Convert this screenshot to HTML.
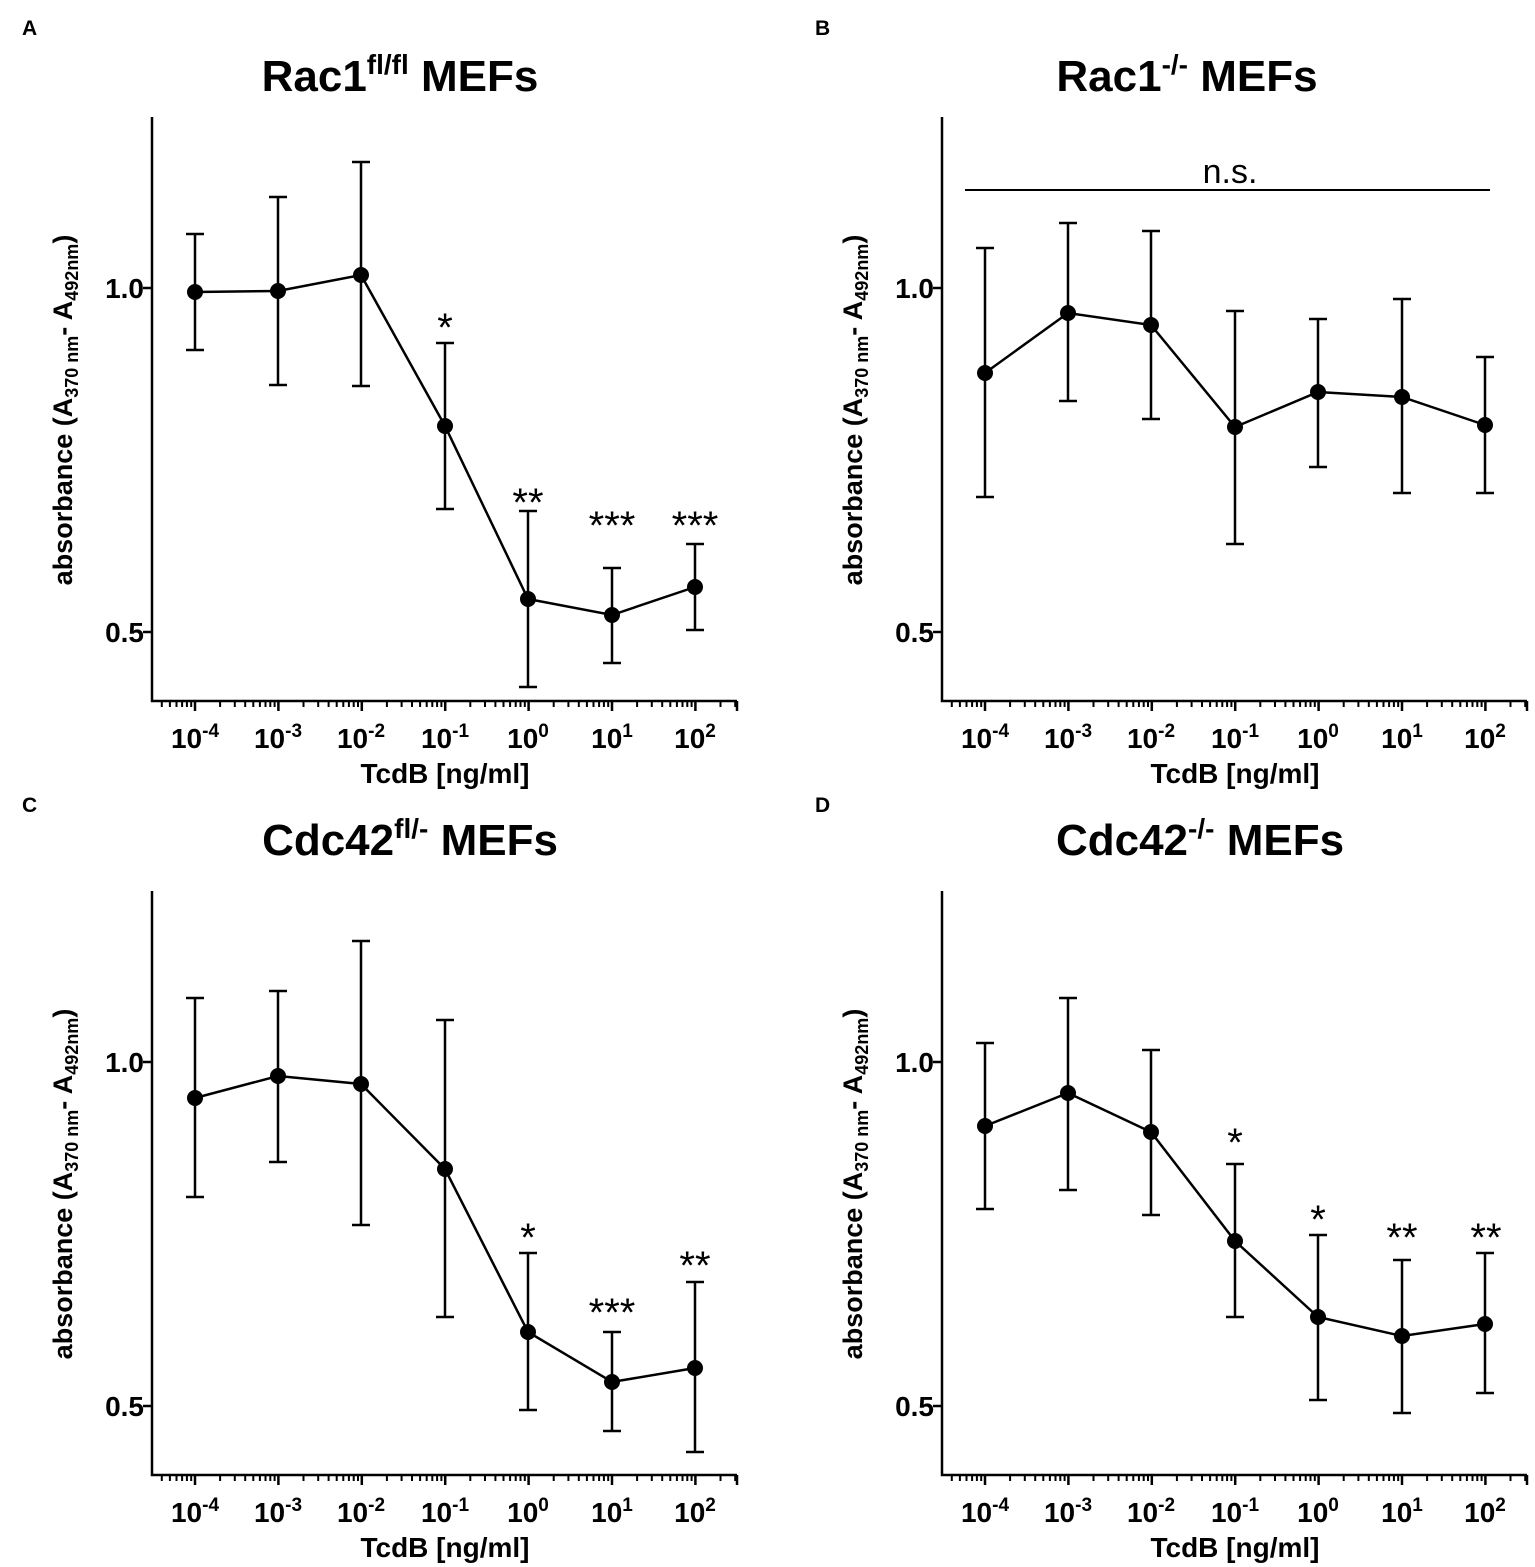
<!DOCTYPE html>
<html><head><meta charset="utf-8"><style>
body{margin:0;background:#fff}
svg{display:block;font-family:"Liberation Sans",Arial,sans-serif}
.t{font-weight:bold;font-size:44px;text-anchor:middle}
.l{font-weight:bold;font-size:21px}
.yl{font-weight:bold;font-size:27px;text-anchor:middle}
.tk{font-size:28px;font-weight:bold;text-anchor:end}
.xt{font-size:28px;font-weight:bold;text-anchor:middle}
.st{font-size:40px;text-anchor:middle}
</style></head><body>
<svg id="s" width="1535" height="1567" viewBox="0 0 1535 1567">
<text class="l" x="22" y="35">A</text>
<text class="l" x="815" y="35">B</text>
<text class="l" x="22" y="812">C</text>
<text class="l" x="815" y="812">D</text>
<text class="t" x="400" y="91">Rac1<tspan font-size="28" dy="-17">fl/fl</tspan><tspan dy="17"> MEFs</tspan></text>
<text class="t" x="1187" y="91">Rac1<tspan font-size="28" dy="-17">-/-</tspan><tspan dy="17"> MEFs</tspan></text>
<text class="t" x="410" y="855">Cdc42<tspan font-size="28" dy="-17">fl/-</tspan><tspan dy="17"> MEFs</tspan></text>
<text class="t" x="1200" y="855">Cdc42<tspan font-size="28" dy="-17">-/-</tspan><tspan dy="17"> MEFs</tspan></text>
<g id="labels">
<g transform="translate(0,0)">
<text class="yl" transform="translate(72,410) rotate(-90)">absorbance (A<tspan font-size="18" dy="6">370 nm</tspan><tspan dy="-6">- A</tspan><tspan font-size="18" dy="6">492nm</tspan><tspan dy="-6">)</tspan></text>
<text class="tk" x="144" y="298">1.0</text><text class="tk" x="144" y="642">0.5</text>
<text class="xt" x="445" y="783">TcdB [ng/ml]</text>
<text class="xt" x="195" y="748">10<tspan font-size="19" dy="-11">-4</tspan></text>
<text class="xt" x="278" y="748">10<tspan font-size="19" dy="-11">-3</tspan></text>
<text class="xt" x="361" y="748">10<tspan font-size="19" dy="-11">-2</tspan></text>
<text class="xt" x="445" y="748">10<tspan font-size="19" dy="-11">-1</tspan></text>
<text class="xt" x="528" y="748">10<tspan font-size="19" dy="-11">0</tspan></text>
<text class="xt" x="612" y="748">10<tspan font-size="19" dy="-11">1</tspan></text>
<text class="xt" x="695" y="748">10<tspan font-size="19" dy="-11">2</tspan></text>
</g>
<g transform="translate(790,0)">
<text class="yl" transform="translate(72,410) rotate(-90)">absorbance (A<tspan font-size="18" dy="6">370 nm</tspan><tspan dy="-6">- A</tspan><tspan font-size="18" dy="6">492nm</tspan><tspan dy="-6">)</tspan></text>
<text class="tk" x="144" y="298">1.0</text><text class="tk" x="144" y="642">0.5</text>
<text class="xt" x="445" y="783">TcdB [ng/ml]</text>
<text class="xt" x="195" y="748">10<tspan font-size="19" dy="-11">-4</tspan></text>
<text class="xt" x="278" y="748">10<tspan font-size="19" dy="-11">-3</tspan></text>
<text class="xt" x="361" y="748">10<tspan font-size="19" dy="-11">-2</tspan></text>
<text class="xt" x="445" y="748">10<tspan font-size="19" dy="-11">-1</tspan></text>
<text class="xt" x="528" y="748">10<tspan font-size="19" dy="-11">0</tspan></text>
<text class="xt" x="612" y="748">10<tspan font-size="19" dy="-11">1</tspan></text>
<text class="xt" x="695" y="748">10<tspan font-size="19" dy="-11">2</tspan></text>
</g>
<g transform="translate(0,774)">
<text class="yl" transform="translate(72,410) rotate(-90)">absorbance (A<tspan font-size="18" dy="6">370 nm</tspan><tspan dy="-6">- A</tspan><tspan font-size="18" dy="6">492nm</tspan><tspan dy="-6">)</tspan></text>
<text class="tk" x="144" y="298">1.0</text><text class="tk" x="144" y="642">0.5</text>
<text class="xt" x="445" y="783">TcdB [ng/ml]</text>
<text class="xt" x="195" y="748">10<tspan font-size="19" dy="-11">-4</tspan></text>
<text class="xt" x="278" y="748">10<tspan font-size="19" dy="-11">-3</tspan></text>
<text class="xt" x="361" y="748">10<tspan font-size="19" dy="-11">-2</tspan></text>
<text class="xt" x="445" y="748">10<tspan font-size="19" dy="-11">-1</tspan></text>
<text class="xt" x="528" y="748">10<tspan font-size="19" dy="-11">0</tspan></text>
<text class="xt" x="612" y="748">10<tspan font-size="19" dy="-11">1</tspan></text>
<text class="xt" x="695" y="748">10<tspan font-size="19" dy="-11">2</tspan></text>
</g>
<g transform="translate(790,774)">
<text class="yl" transform="translate(72,410) rotate(-90)">absorbance (A<tspan font-size="18" dy="6">370 nm</tspan><tspan dy="-6">- A</tspan><tspan font-size="18" dy="6">492nm</tspan><tspan dy="-6">)</tspan></text>
<text class="tk" x="144" y="298">1.0</text><text class="tk" x="144" y="642">0.5</text>
<text class="xt" x="445" y="783">TcdB [ng/ml]</text>
<text class="xt" x="195" y="748">10<tspan font-size="19" dy="-11">-4</tspan></text>
<text class="xt" x="278" y="748">10<tspan font-size="19" dy="-11">-3</tspan></text>
<text class="xt" x="361" y="748">10<tspan font-size="19" dy="-11">-2</tspan></text>
<text class="xt" x="445" y="748">10<tspan font-size="19" dy="-11">-1</tspan></text>
<text class="xt" x="528" y="748">10<tspan font-size="19" dy="-11">0</tspan></text>
<text class="xt" x="612" y="748">10<tspan font-size="19" dy="-11">1</tspan></text>
<text class="xt" x="695" y="748">10<tspan font-size="19" dy="-11">2</tspan></text>
</g>
</g>
<text class="st" x="445" y="341">*</text>
<text class="st" x="528" y="516">**</text>
<text class="st" x="612" y="539">***</text>
<text class="st" x="695" y="539">***</text>
<line x1="965" y1="190" x2="1490" y2="190" stroke="#000" stroke-width="2"/>
<text x="1230" y="183" font-size="34" text-anchor="middle">n.s.</text>
<text class="st" x="528" y="1251">*</text>
<text class="st" x="612" y="1326">***</text>
<text class="st" x="695" y="1279">**</text>
<text class="st" x="1235" y="1156">*</text>
<text class="st" x="1318" y="1233">*</text>
<text class="st" x="1402" y="1251">**</text>
<text class="st" x="1486" y="1251">**</text>
<g id="g"></g>
</svg>
<script>
var g=document.getElementById('g'),h='';
var off=[[0,0],[790,0],[0,774],[790,774]];
var X=[195,278,361,445,528,612,695];
var D=[
[[292,234,350],[291,197,385],[275,162,386],[426,343,509],[599,511,687],[615,568,663],[587,544,630]],
[[373,248,497],[313,223,401],[325,231,419],[427,311,544],[392,319,467],[397,299,493],[425,357,493]],
[[324,224,423],[302,217,388],[310,167,451],[395,246,543],[558,479,636],[608,558,657],[594,508,678]],
[[352,269,435],[319,224,416],[358,276,441],[467,390,543],[543,461,626],[562,486,639],[550,479,619]]];
for(var p=0;p<4;p++){var dx=off[p][0],dy=off[p][1];
h+='<g transform="translate('+dx+','+dy+')" stroke="#000" stroke-width="2.5" fill="none">';
h+='<path d="M152,117V701H737"/><path d="M152,288h-9M152,632h-9"/>';
for(var d=-5;d<=2;d++){var b=195+(d+4)*83.4;
 if(b>=152&&b<=737)h+='<path d="M'+b+',701v10"/>';
 for(var k=2;k<=9;k++){var x=b+Math.log10(k)*83.4;if(x>=152&&x<=737)h+='<path stroke-width="2" d="M'+x.toFixed(1)+',701v6"/>';}}
h+='<path d="M737,701v10"/>';
var pts=D[p].map(function(v,i){return X[i]+','+v[0]}).join(' ');
h+='<polyline points="'+pts+'"/>';
D[p].forEach(function(v,i){var x=X[i];h+='<path d="M'+x+','+v[1]+'V'+v[2]+'M'+(x-9)+','+v[1]+'h18M'+(x-9)+','+v[2]+'h18"/><circle cx="'+x+'" cy="'+v[0]+'" r="8" fill="#000" stroke="none"/>';});
h+='</g>';}
g.innerHTML=h;
</script>
</body></html>
